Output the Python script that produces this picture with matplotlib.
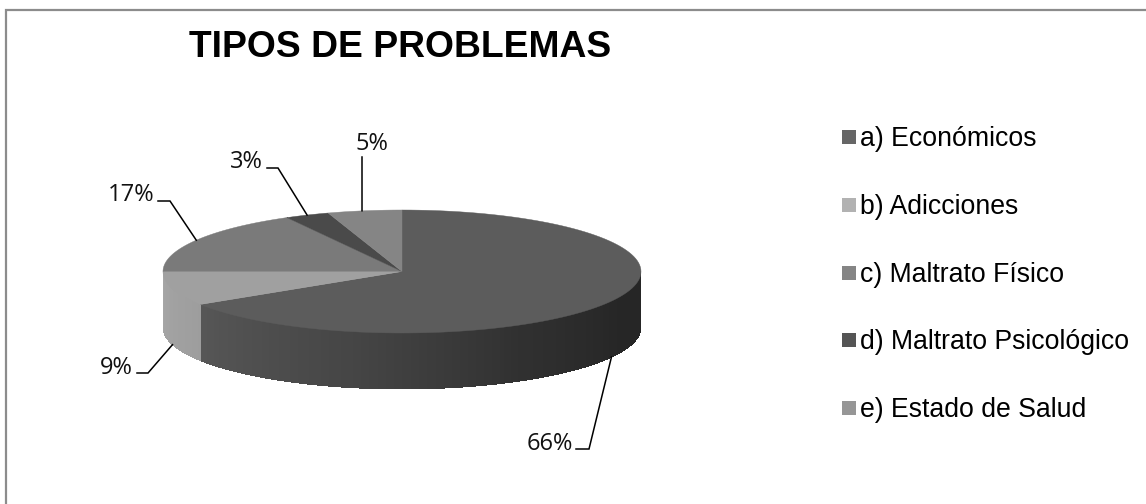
import numpy as np
import matplotlib
matplotlib.use('Agg')
import matplotlib.pyplot as plt
from matplotlib.patches import Polygon, Rectangle

# data
categories = ['a) Económicos', 'b) Adicciones', 'c) Maltrato Físico', 'd) Maltrato Psicológico', 'e) Estado de Salud']
values = [66, 9, 17, 3, 5]
title = 'TIPOS DE PROBLEMAS'

# colours
top_colors = ['#5c5c5c', '#a0a0a0', '#7a7a7a', '#4a4a4a', '#858585']
legend_colors = ['#666666', '#b2b2b2', '#858585', '#555555', '#969696']

# pie geometry, in pixels
cx, cy = 402, 271.5
rx, ry = 239, 61.5
depth = 56

# elbow of each leader line, (end of the stub next to the text, corner)
stubs = [((576, 449), (589, 449)), ((137, 373), (148, 373)), ((158, 201), (170, 201)),
	((267, 168), (278, 168)), ((362, 157), (362, 157))]
label_pos = [(573, 443.5), (133, 368), (154, 195), (263, 162), (372, 144)]
label_ha = ['right', 'right', 'right', 'right', 'center']
anchor_shift = [0, 0, 0, 0, -2.6]


def edge(angle, drop=0):
	# angle in degrees, clockwise from 12 o'clock
	a = np.radians(angle)
	return cx + rx * np.sin(a), cy - ry * np.cos(a) + drop


def side_shade(angle):
	# dark to the right, lighter to the left
	return np.interp(angle, [90, 115, 150, 190, 237.6], [0.15, 0.15, 0.19, 0.27, 0.34])


fig = plt.figure(figsize=(11.46, 5.04), dpi=100)
ax = fig.add_axes([0, 0, 1, 1])
ax.set_xlim(0, 1146)
ax.set_ylim(504, 0)
ax.axis('off')

# chart frame, only left and top are in the picture
ax.plot([6, 6, 1146], [504, 9.5, 9.5], color='#8c8c8c', lw=1.6, solid_joinstyle='miter')

bounds = np.cumsum([0] + values) * 3.6

# side wall, front half only
for i in range(len(values)):
	start = max(bounds[i], 90)
	end = min(bounds[i + 1], 270)
	if start >= end:
		continue
	steps = np.arange(start, end, 1.0)
	for s in steps:
		e = min(s + 1.3, end)
		angs = np.linspace(s, e, 4)
		top = [edge(v) for v in angs]
		bottom = [edge(v, depth) for v in angs[::-1]]
		if i == 0:
			col = str(side_shade(s))
		else:
			col = str(0.65 - (270 - s) * 0.001)
		ax.add_patch(Polygon(top + bottom, fc=col, ec='none', antialiased=False))

# top face
for i in range(len(values)):
	angs = np.linspace(bounds[i], bounds[i + 1], 120)
	pts = [(cx, cy)] + [edge(v) for v in angs]
	ax.add_patch(Polygon(pts, fc=top_colors[i], ec=top_colors[i], lw=0.3))

# leader lines and percent labels, anchored at the middle of each slice
for i, v in enumerate(values):
	mid = (bounds[i] + bounds[i + 1]) / 2
	drop = depth if 90 < mid < 270 else 0
	ax_, ay_ = edge(mid, drop)
	s0, s1 = stubs[i]
	ax.plot([s0[0], s1[0], ax_ + anchor_shift[i]], [s0[1], s1[1], ay_], color='black', lw=1.1, solid_joinstyle='miter')
	ax.text(label_pos[i][0], label_pos[i][1], f'{v}%', family='Open Sans', fontsize=17,
		ha=label_ha[i], va='center', color='#111111')

# title
ax.text(400, 47.5, title, family='Liberation Sans', fontsize=26.8, fontweight='bold', ha='center', va='center', color='black')

# legend
for i, name in enumerate(categories):
	y = 137 + i * 67.75
	ax.add_patch(Rectangle((842, y - 7), 14, 14, fc=legend_colors[i], ec='none'))
	ax.text(860, y + 2, name, family='Liberation Sans', fontsize=19.2, ha='left', va='center', color='black')

plt.savefig('out.png', dpi=100)
